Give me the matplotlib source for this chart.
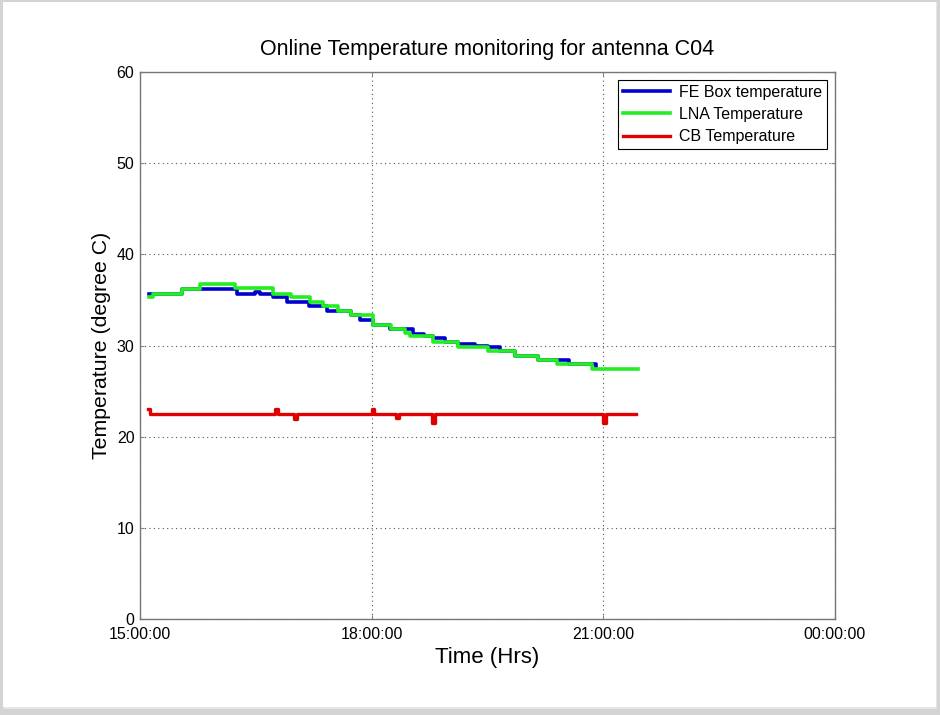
import datetime as dt
import matplotlib
matplotlib.use("Agg")
import matplotlib.pyplot as plt
from matplotlib.patches import Rectangle

plt.rcParams['font.family'] = ['Liberation Sans', 'DejaVu Sans']

day = dt.datetime(2013, 1, 1)

def t(s):
    h, m = s.split(":")
    return day + dt.timedelta(hours=int(h), minutes=int(m))

# FE box temperature (steps)
fe_times = ["15:07", "15:13", "15:33", "16:15", "16:29", "16:33", "16:43", "16:54",
            "17:11", "17:25", "17:44", "17:51", "18:01", "18:14", "18:32", "18:41",
            "18:48", "18:57", "19:07", "19:20", "19:30", "19:40", "19:51", "20:09",
            "20:33", "20:54"]
fe_temp = [35.6, 35.7, 36.2, 35.7, 35.9, 35.7, 35.3, 34.8,
           34.3, 33.8, 33.3, 32.8, 32.3, 31.8, 31.3, 31.0,
           30.8, 30.4, 30.2, 29.9, 29.8, 29.4, 28.9, 28.4,
           28.0, 27.7]

# LNA temperature (steps)
lna_times = ["15:07", "15:10", "15:33", "15:47", "16:14", "16:43", "16:57", "17:12",
             "17:22", "17:34", "17:44", "18:01", "18:15", "18:26", "18:30", "18:48",
             "19:07", "19:30", "19:51", "20:09", "20:24", "20:51", "21:27"]
lna_temp = [35.3, 35.7, 36.2, 36.7, 36.3, 35.7, 35.3, 34.8,
            34.3, 33.8, 33.3, 32.3, 31.8, 31.4, 31.0, 30.4,
            29.8, 29.4, 28.9, 28.4, 28.0, 27.4, 27.4]

# CB temperature with short glitches
cb_times = ["15:06", "15:08", "16:45", "16:47", "17:00", "17:02", "18:00", "18:02",
            "18:19", "18:21", "18:47", "18:49", "21:00", "21:02", "21:25"]
cb_temp = [23.0, 22.5, 23.0, 22.5, 21.9, 22.5, 23.0, 22.5,
           22.1, 22.5, 21.5, 22.5, 21.5, 22.5, 22.5]

x_ticks = ["15:00", "18:00", "21:00", "24:00"]
x_tick_labels = ["15:00:00", "18:00:00", "21:00:00", "00:00:00"]

fig = plt.figure(figsize=(9.4, 7.15), dpi=100)
fig.patch.set_facecolor("#d4d4d4")
# white page with a soft shadow
fig.patches.append(Rectangle((4 / 940, 6 / 715), 933 / 940, 707 / 715,
                             transform=fig.transFigure, facecolor="#e6e6e6",
                             edgecolor="none", zorder=-3))
fig.patches.append(Rectangle((3 / 940, 8 / 715), 933 / 940, 705 / 715,
                             transform=fig.transFigure, facecolor="white",
                             edgecolor="none", zorder=-2))

ax = fig.add_axes([140 / 940, 1 - 619 / 715, 695 / 940, 547 / 715])

ax.step([t(s) for s in fe_times], fe_temp, where="post", color="#0000cc",
        lw=2.6, label="FE Box temperature")
ax.step([t(s) for s in lna_times], lna_temp, where="post", color="#22ee22",
        lw=2.6, label="LNA Temperature")
ax.step([t(s) for s in cb_times], cb_temp, where="post", color="#e00000",
        lw=2.4, label="CB Temperature")

ax.set_xlim(t("15:00"), t("24:00"))
ax.set_ylim(0, 60)
ax.set_yticks(range(0, 61, 10))
ax.set_xticks([t(s) for s in x_ticks])
ax.set_xticklabels(x_tick_labels)

ax.grid(True, linestyle=(0, (1, 3)), color="#555555", lw=0.8)
ax.tick_params(direction="in", length=3, color="#888888", labelsize=11.5,
               top=True, right=True)
ax.tick_params(axis="x", pad=6)
ax.tick_params(axis="y", pad=4)
for sp in ax.spines.values():
    sp.set_color("#777777")
    sp.set_linewidth(1.0)

ax.set_title("Online Temperature monitoring for antenna C04", fontsize=15.5, pad=12)
ax.set_xlabel("Time (Hrs)", fontsize=16, labelpad=3)
ax.set_ylabel("Temperature (degree C)", fontsize=15.3, labelpad=4)

leg = ax.legend(loc="upper right", fontsize=11.5, fancybox=False, framealpha=1,
                edgecolor="black", handlelength=2.9, borderaxespad=0.5,
                labelspacing=0.45, handletextpad=0.6, borderpad=0.3)
leg.get_frame().set_linewidth(0.8)

fig.savefig("out.png", dpi=100, facecolor=fig.get_facecolor())
